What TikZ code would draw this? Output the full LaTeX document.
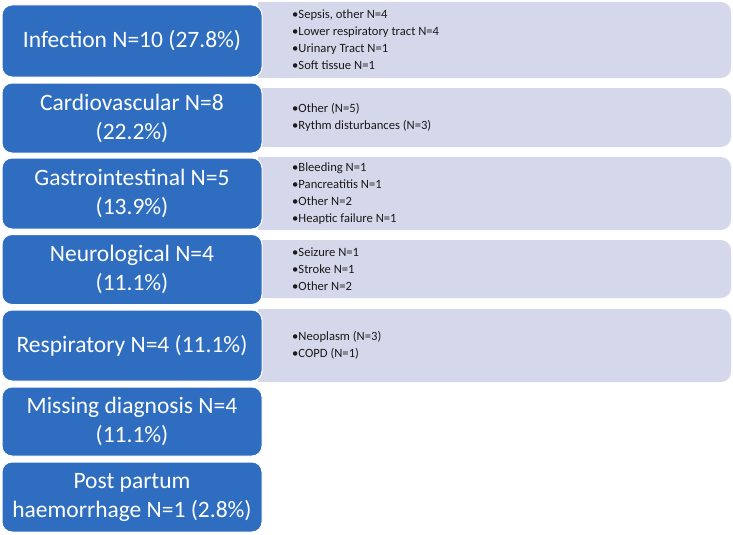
\documentclass[tikz,border=0pt]{standalone}
\usepackage{fontspec}
\setmainfont{Carlito}
\definecolor{catblue}{HTML}{2E6DC0}
\definecolor{subgray}{HTML}{D5D8EA}
\definecolor{subtextcol}{HTML}{1A1A1A}
\tikzset{
  catbox/.style={draw=white, line width=1pt, fill=catblue, rounded corners=10pt,
    text=white, font=\fontsize{23.5}{29}\selectfont, align=center,
    minimum width=260pt, inner sep=0pt},
  subbox/.style={fill=subgray, draw=none, rounded corners=10pt,
    minimum width=473pt, inner sep=0pt},
  subtext/.style={anchor=west, align=left, text=subtextcol,
    font=\fontsize{12.6}{17}\selectfont, inner sep=0pt},
}
\begin{document}
\begin{tikzpicture}[x=1pt,y=-1pt]
\useasboundingbox (0,0) rectangle (733,535);
% grey detail boxes (left side square, right side rounded)
\node[subbox, minimum height=76pt] (g1) at (494.5,40) {};
\node[subbox, minimum height=59pt] (g2) at (494.5,117.5) {};
\node[subbox, minimum height=73pt] (g3) at (494.5,193.5) {};
\node[subbox, minimum height=58pt] (g4) at (494.5,269) {};
\node[subbox, minimum height=73pt] (g5) at (494.5,345.5) {};
\foreach \g in {g1,g2,g3,g4,g5}{
  \fill[subgray] (\g.north west) rectangle ([xshift=20pt]\g.south west);
}
% detail texts
\node[subtext] (t1) at (292,40) {•Sepsis, other N=4\\•Lower respiratory tract N=4\\•Urinary Tract N=1\\•Soft tissue N=1};
\node[subtext] (t2) at (292,117.5) {•Other (N=5)\\•Rythm disturbances (N=3)};
\node[subtext] (t3) at (292,193.5) {•Bleeding N=1\\•Pancreatitis N=1\\•Other N=2\\•Heaptic failure N=1};
\node[subtext] (t4) at (292,269) {•Seizure N=1\\•Stroke N=1\\•Other N=2};
\node[subtext] (t5) at (292,345.5) {•Neoplasm (N=3)\\•COPD (N=1)};
% blue category boxes
\node[catbox, minimum height=72pt] (c1) at (132,41) {Infection N=10 (27.8\%)};
\node[catbox, minimum height=70pt] (c2) at (132,118) {Cardiovascular N=8\\(22.2\%)};
\node[catbox, minimum height=71pt] (c3) at (132,193.5) {Gastrointestinal N=5\\(13.9\%)};
\node[catbox, minimum height=70pt] (c4) at (132,269.5) {Neurological N=4\\(11.1\%)};
\node[catbox, minimum height=71pt] (c5) at (132,345.5) {Respiratory N=4 (11.1\%)};
\node[catbox, minimum height=69pt] (c6) at (132,421.5) {Missing diagnosis N=4\\(11.1\%)};
\node[catbox, minimum height=70pt] (c7) at (132,497) {Post partum\\haemorrhage N=1 (2.8\%)};
\end{tikzpicture}
\end{document}
